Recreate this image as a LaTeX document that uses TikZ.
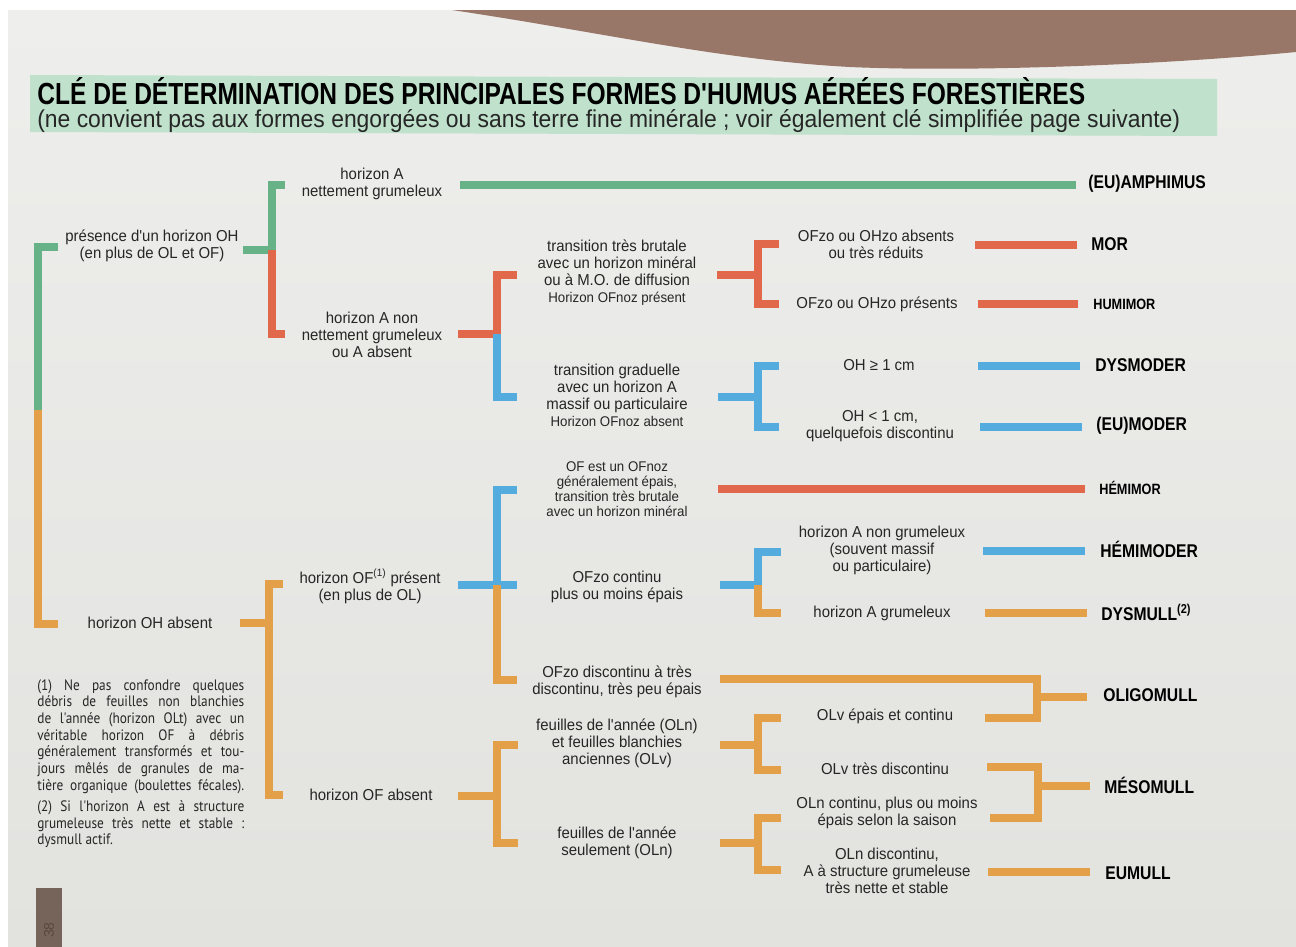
\documentclass[tikz,border=0pt]{standalone}
\usepackage{fontspec}
\usepackage{graphicx}
\setmainfont{Liberation Sans}
\newfontfamily\labfont[FakeStretch=0.945]{Liberation Sans}
\newfontfamily\resfont[FakeStretch=0.85]{Liberation Sans}
\newfontfamily\titfont{Liberation Sans}
\newfontfamily\notefont[FakeStretch=0.88]{PT Sans}
\definecolor{cG}{RGB}{104,178,136}
\definecolor{cR}{RGB}{226,104,76}
\definecolor{cB}{RGB}{84,172,222}
\definecolor{cO}{RGB}{228,160,72}
\definecolor{txt}{RGB}{38,38,38}
\definecolor{pagetop}{RGB}{238,238,236}
\definecolor{pagebot}{RGB}{226,226,223}
\definecolor{brownbg}{RGB}{152,118,104}
\definecolor{band}{RGB}{192,225,203}
\definecolor{pnum}{RGB}{118,100,90}
\newcommand\jl[1]{\makebox[4.14cm][s]{#1}}
\tikzset{
  ln/.style={line width=0.16cm, line cap=butt, line join=miter},
  lab/.style={font=\labfont\fontsize{9}{9.7}\selectfont, align=center, inner sep=0pt, text=txt},
  sml/.style={font=\labfont\fontsize{8}{8.5}\selectfont, align=center, inner sep=0pt, text=txt},
  res/.style={font=\resfont\bfseries\fontsize{10.5}{12}\selectfont, anchor=west, inner sep=0pt, text=black},
  ress/.style={font=\resfont\bfseries\fontsize{8.5}{10}\selectfont, anchor=west, inner sep=0pt, text=black},
}
\begin{document}
\begin{tikzpicture}[x=0.02cm,y=-0.02cm]
\useasboundingbox (0,0) rectangle (1296,947);
\fill[white] (0,0) rectangle (1296,947);
\shade[top color=pagetop, bottom color=pagebot] (8,10) rectangle (1296,947);
\fill[brownbg] (452,10) -- (1296,10) -- (1296,52) .. controls (1150,66) and (960,72) .. (850,67) .. controls (720,60) and (600,32) .. (452,10) -- cycle;
\fill[band] (30,75) -- (1217,79) -- (1217,136) -- (30,132) -- cycle;

% title
\node[anchor=base west, inner sep=0pt, text=black] (title) at (37,104)
  {\resizebox{20.96cm}{0.54cm}{\titfont\bfseries CLÉ DE DÉTERMINATION DES PRINCIPALES FORMES D'HUMUS AÉRÉES FORESTIÈRES}};
\node[anchor=base west, inner sep=0pt, text=txt] (subtitle) at (37,127)
  {\resizebox{22.86cm}{0.36cm}{\titfont (ne convient pas aux formes engorgées ou sans terre fine minérale ; voir également clé simplifiée page suivante)}};

% labels
\node[lab] (pres) at (152,246) {présence d'un horizon OH\\(en plus de OL et OF)};
\node[lab] (ohabs) at (150,623) {horizon OH absent};
\node[lab] (hA) at (372,184) {horizon A\\nettement grumeleux};
\node[lab] (hAnon) at (372,335) {horizon A non\\nettement grumeleux\\ou A absent};
\node[lab] (hOFp) at (370,586) {horizon OF\textsuperscript{(1)} présent\\(en plus de OL)};
\node[lab] (hOFa) at (371,795) {horizon OF absent};
\node[lab] (tb) at (617,273) {transition très brutale\\avec un horizon minéral\\ou à M.O. de diffusion\\{\fontsize{8}{9}\selectfont Horizon OFnoz présent}};
\node[lab] (tg) at (617,395) {transition graduelle\\avec un horizon A\\massif ou particulaire\\{\fontsize{8}{9}\selectfont Horizon OFnoz absent}};
\node[sml] (ofnoz) at (617,489) {OF est un OFnoz\\généralement épais,\\transition très brutale\\avec un horizon minéral};
\node[lab] (ofzoc) at (617,587) {OFzo continu\\plus ou moins épais};
\node[lab] (ofzod) at (617,682) {OFzo discontinu à très\\discontinu, très peu épais};
\node[lab] (fOLnv) at (617,743) {feuilles de l'année (OLn)\\et feuilles blanchies\\anciennes (OLv)};
\node[lab] (fOLn) at (617,843) {feuilles de l'année\\seulement (OLn)};
\node[lab] (zabs) at (876,244) {OFzo ou OHzo absents\\ou très réduits};
\node[lab] (zpres) at (877,304) {OFzo ou OHzo présents};
\node[lab] (oh1) at (879,365) {OH ≥ 1 cm};
\node[lab] (oh2) at (880,426) {OH < 1 cm,\\quelquefois discontinu};
\node[lab] (hAng) at (882,550) {horizon A non grumeleux\\(souvent massif\\ou particulaire)};
\node[lab] (hAg) at (882,613) {horizon A grumeleux};
\node[lab] (olv1) at (885,716) {OLv épais et continu};
\node[lab] (olv2) at (885,769) {OLv très discontinu};
\node[lab] (oln1) at (887,813) {OLn continu, plus ou moins\\épais selon la saison};
\node[lab] (oln2) at (887,871) {OLn discontinu,\\A à structure grumeleuse\\très nette et stable};

% results
\node[res] (amph) at (1088,184) {(EU)AMPHIMUS};
\node[res] (mor) at (1091,244) {MOR};
\node[ress] (humimor) at (1093,304) {HUMIMOR};
\node[res] (dysmod) at (1095,365) {DYSMODER};
\node[res] (eumod) at (1096,426) {(EU)MODER};
\node[ress] (hemimor) at (1099,488) {HÉMIMOR};
\node[res] (hemimod) at (1100,549) {HÉMIMODER};
\node[res] (dysmull) at (1101,612) {DYSMULL\textsuperscript{(2)}};
\node[res] (oligo) at (1103,695) {OLIGOMULL};
\node[res] (meso) at (1104,785) {MÉSOMULL};
\node[res] (eumull) at (1105,873) {EUMULL};

% footnotes
\node[anchor=north west, inner sep=0pt, align=left, text=txt,
  font=\notefont\fontsize{8.6}{9.5}\selectfont] (notes) at (37,679)
 {\jl{(1) Ne pas confondre quelques}\\
  \jl{débris de feuilles non blanchies}\\
  \jl{de l'année (horizon OLt) avec un}\\
  \jl{véritable horizon OF à débris}\\
  \jl{généralement transformés et tou-}\\
  \jl{jours mêlés de granules de ma-}\\
  \jl{tière organique (boulettes fécales).}\\[2.6pt]
  \jl{(2) Si l'horizon A est à structure}\\
  \jl{grumeleuse très nette et stable :}\\
  dysmull actif.};

% page number
\fill[pnum] (36,888) rectangle (62,947);
\node[rotate=90, inner sep=0pt, text=brownbg!60!black, font=\fontsize{8}{9}\selectfont] (pg) at (49,930) {38};

% ---- connectors ----
% level 1
\coordinate (a1t) at (58,247); \coordinate (a1s) at (38,247);
\coordinate (a1m) at (38,410); \coordinate (a1b) at (38,624); \coordinate (a1e) at (58,624);
\draw[ln,cG] (a1t) -- (a1s) -- (a1m);
\draw[ln,cO] (a1m) -- (a1b) -- (a1e);

% level 2 upper
\coordinate (u2s) at (243,250); \coordinate (u2a) at (285,185); \coordinate (u2b) at (272,185);
\coordinate (u2c) at (272,250); \coordinate (u2d) at (272,334); \coordinate (u2e) at (285,334);
\draw[ln,cG] (u2s) -- (u2c);
\draw[ln,cG] (u2a) -- (u2b) -- (u2c);
\draw[ln,cR] (u2c) -- (u2d) -- (u2e);

% amphimus
\coordinate (l1a) at (460,185); \coordinate (l1b) at (1076,185);
\draw[ln,cG] (l1a) -- (l1b);

% level 3 upper
\coordinate (u3s) at (458,334); \coordinate (u3a) at (517,275); \coordinate (u3b) at (497,275);
\coordinate (u3c) at (497,334); \coordinate (u3d) at (497,397); \coordinate (u3e) at (517,397);
\draw[ln,cR] (u3s) -- (u3c);
\draw[ln,cR] (u3a) -- (u3b) -- (u3c);
\draw[ln,cB] (u3c) -- (u3d) -- (u3e);

% level 4 red
\coordinate (r4s) at (717,275); \coordinate (r4c) at (758,275);
\coordinate (r4a) at (779,244); \coordinate (r4b) at (758,244);
\coordinate (r4d) at (758,304); \coordinate (r4e) at (779,304);
\draw[ln,cR] (r4s) -- (r4c);
\draw[ln,cR] (r4a) -- (r4b) -- (r4d) -- (r4e);

% level 4 blue
\coordinate (b4s) at (718,397); \coordinate (b4c) at (758,397);
\coordinate (b4a) at (779,366); \coordinate (b4b) at (758,366);
\coordinate (b4d) at (758,427); \coordinate (b4e) at (779,427);
\draw[ln,cB] (b4s) -- (b4c);
\draw[ln,cB] (b4a) -- (b4b) -- (b4d) -- (b4e);

% result lines upper
\coordinate (m1) at (975,245); \coordinate (m2) at (1077,245);
\coordinate (h1) at (978,304); \coordinate (h2) at (1078,304);
\coordinate (d1) at (978,366); \coordinate (d2) at (1080,366);
\coordinate (e1) at (980,427); \coordinate (e2) at (1082,427);
\draw[ln,cR] (m1) -- (m2);
\draw[ln,cR] (h1) -- (h2);
\draw[ln,cB] (d1) -- (d2);
\draw[ln,cB] (e1) -- (e2);

% level 2 lower
\coordinate (l2s) at (240,623); \coordinate (l2c) at (269,623);
\coordinate (l2a) at (283,584); \coordinate (l2b) at (269,584);
\coordinate (l2d) at (269,795); \coordinate (l2e) at (283,795);
\draw[ln,cO] (l2s) -- (l2c);
\draw[ln,cO] (l2a) -- (l2b) -- (l2d) -- (l2e);

% level 3 middle
\coordinate (m3s) at (458,585); \coordinate (m3t) at (517,585);
\coordinate (m3a) at (517,490); \coordinate (m3b) at (497,490);
\coordinate (m3c) at (497,585); \coordinate (m3d) at (497,680); \coordinate (m3e) at (517,680);
\draw[ln,cB] (m3s) -- (m3t);
\draw[ln,cB] (m3a) -- (m3b) -- (m3c);
\draw[ln,cO] (m3c) -- (m3d) -- (m3e);

% hemimor
\coordinate (hm1) at (718,489); \coordinate (hm2) at (1085,489);
\draw[ln,cR] (hm1) -- (hm2);

% level 4 middle
\coordinate (n4s) at (720,585); \coordinate (n4c) at (758,585);
\coordinate (n4a) at (781,552); \coordinate (n4b) at (758,552);
\coordinate (n4d) at (758,613); \coordinate (n4e) at (781,613);
\draw[ln,cB] (n4s) -- (n4c);
\draw[ln,cB] (n4a) -- (n4b) -- (n4c);
\draw[ln,cO] (n4c) -- (n4d) -- (n4e);

\coordinate (hd1) at (983,551); \coordinate (hd2) at (1085,551);
\coordinate (ds1) at (985,613); \coordinate (ds2) at (1087,613);
\draw[ln,cB] (hd1) -- (hd2);
\draw[ln,cO] (ds1) -- (ds2);

% oligomull
\coordinate (o1) at (720,679); \coordinate (o2) at (1037,679);
\coordinate (o3) at (1037,718); \coordinate (o4) at (985,718);
\coordinate (o5) at (1037,697); \coordinate (o6) at (1087,697);
\draw[ln,cO] (o1) -- (o2) -- (o3) -- (o4);
\draw[ln,cO] (o5) -- (o6);

% level 3 lower
\coordinate (w3s) at (458,796); \coordinate (w3c) at (497,796);
\coordinate (w3a) at (518,745); \coordinate (w3b) at (497,745);
\coordinate (w3d) at (497,843); \coordinate (w3e) at (518,843);
\draw[ln,cO] (w3s) -- (w3c);
\draw[ln,cO] (w3a) -- (w3b) -- (w3d) -- (w3e);

% level 4 A
\coordinate (pa) at (720,745); \coordinate (pc) at (758,745);
\coordinate (pt) at (781,718); \coordinate (pb) at (758,718);
\coordinate (pd) at (758,770); \coordinate (pe) at (781,770);
\draw[ln,cO] (pa) -- (pc);
\draw[ln,cO] (pt) -- (pb) -- (pd) -- (pe);

% level 4 B
\coordinate (qa) at (720,843); \coordinate (qc) at (758,843);
\coordinate (qt) at (781,818); \coordinate (qb) at (758,818);
\coordinate (qd) at (758,870); \coordinate (qe) at (781,870);
\draw[ln,cO] (qa) -- (qc);
\draw[ln,cO] (qt) -- (qb) -- (qd) -- (qe);

% mesomull
\coordinate (ms1) at (987,767); \coordinate (ms2) at (1038,767);
\coordinate (ms3) at (1038,818); \coordinate (ms4) at (990,818);
\coordinate (ms5) at (1038,786); \coordinate (ms6) at (1090,786);
\draw[ln,cO] (ms1) -- (ms2) -- (ms3) -- (ms4);
\draw[ln,cO] (ms5) -- (ms6);

% eumull
\coordinate (eu1) at (988,872); \coordinate (eu2) at (1090,872);
\draw[ln,cO] (eu1) -- (eu2);
\end{tikzpicture}
\end{document}
